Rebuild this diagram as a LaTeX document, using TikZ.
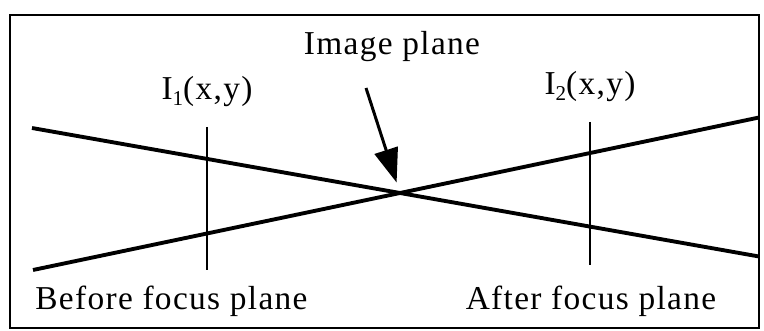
\documentclass[tikz,border=0pt]{standalone}
\usepackage{fontspec}
\setmainfont[LetterSpace=4]{Liberation Serif}
\usetikzlibrary{arrows.meta}
\tikzset{ray/.style={line width=2.2pt},planeline/.style={line width=1.5pt},
  lbl/.style={inner sep=0pt,anchor=base,font=\fontsize{19}{22}\selectfont},
  pointer/.style={line width=1.7pt,-{Triangle[length=0.68cm,width=0.48cm]},shorten >=0.22cm}}
\newcommand{\lowsub}[1]{\raisebox{-0.35ex}{\fontsize{12}{14}\selectfont #1}}

\begin{document}
\begin{tikzpicture}
\useasboundingbox (0,0) rectangle (15.28,6.62);
\draw[line width=1.3pt] (0.2,0.06) rectangle (15.18,6.32);
% rays crossing at the image plane
\coordinate (cross) at (8.0,2.76);
\coordinate (ul) at (0.64,4.06);\coordinate (ll) at (0.66,1.22);
\coordinate (ur) at (15.18,4.27);\coordinate (lr) at (15.18,1.49);
\draw[ray] (ul) -- (cross) -- (lr);
\draw[ray] (ll) -- (cross) -- (ur);
% planes
\coordinate (p1top) at (4.14,4.08);\coordinate (p1bot) at (4.14,1.22);
\coordinate (p2top) at (11.8,4.18);\coordinate (p2bot) at (11.8,1.32);
\draw[planeline] (p1top) -- (p1bot);
\draw[planeline] (p2top) -- (p2bot);
% labels
\node[lbl] (imgplane) at (7.84,5.52) {Image plane};
\node[lbl] (i1) at (4.14,4.62) {I\lowsub{1}(x,y)};
\node[lbl] (i2) at (11.8,4.72) {I\lowsub{2}(x,y)};
\node[lbl,anchor=base west] (before) at (0.7,0.42) {Before focus plane};
\node[lbl] (after) at (11.82,0.42) {After focus plane};
\coordinate (ptr) at (7.32,4.86);
\draw[pointer] (ptr) -- (cross);
\end{tikzpicture}
\end{document}
